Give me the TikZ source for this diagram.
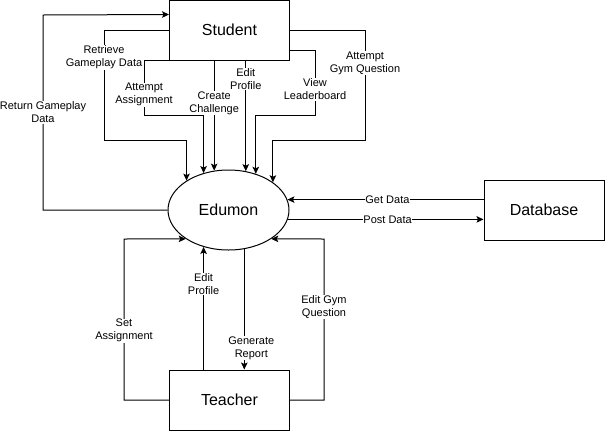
\documentclass[tikz,border=0pt]{standalone}
\usepackage{fontspec}
\setmainfont{Liberation Sans}
\usetikzlibrary{arrows.meta,shapes.geometric}
\begin{document}
\begin{tikzpicture}[x=1pt,y=-1pt,
  box/.style={draw,line width=1pt,minimum width=120pt,minimum height=60pt,inner sep=0pt,font=\fontsize{16}{19}\selectfont},
  proc/.style={draw,line width=1pt,ellipse,minimum width=121pt,minimum height=80pt,inner sep=0pt,font=\fontsize{16}{19}\selectfont},
  arr/.style={line width=1pt,-{Stealth[length=7pt,width=6.5pt,inset=1.5pt]}},
  lbl/.style={fill=white,inner sep=0.5pt,align=center,font=\fontsize{11}{13}\selectfont}]
\useasboundingbox (0,0) rectangle (605,432);
\node[box] (student) at (229.5,30) {Student};
\node[proc] (edumon) at (228.5,210) {Edumon};
\node[box] (database) at (544,210) {Database};
\node[box] (teacher) at (229.5,400) {Teacher};
% student side
\draw[arr] (edumon.west) -- ++(-124.5,0) -- node[lbl,pos=0.5]{Return Gameplay\\Data} ++(0,-195) -- ([yshift=-15pt]student.north west);
\draw[arr] (student.west) -- ++(-65,0) -- node[lbl,pos=0.25]{Retrieve\\Gameplay Data} ++(0,110) -| (edumon.145);
\draw[arr] (student.south west) -- ++(-25,0) -- node[lbl,pos=0.62]{Attempt\\Assignment} ++(0,55) -| (edumon.124);
\draw[arr] (edumon.110.5 |- student.south) -- node[lbl,pos=0.39]{Create\\Challenge} (edumon.110.5);
\draw[arr] (edumon.66.8 |- student.south) -- node[lbl,pos=0.17]{Edit\\Profile} (edumon.66.8);
\draw[arr] ([yshift=10pt]student.south east) -- ++(25,0) -- node[lbl,pos=0.6]{View\\Leaderboard} ++(0,65) -| (edumon.53.6);
\draw[arr] (student.east) -- ++(75,0) -- node[lbl,pos=0.3]{Attempt\\Gym Question} ++(0,110) -| (edumon.32.6);
% database
\draw[arr] (edumon.10.7 -| database.west) -- node[lbl,pos=0.49]{Get Data} (edumon.10.7);
\draw[arr] (edumon.-9.7) -- node[lbl,pos=0.51]{Post Data} (edumon.-9.7 -| database.west);
% teacher side
\draw[arr] (teacher.west) -- ++(-45,0) -- node[lbl,pos=0.43]{Set\\Assignment} ++(0,-161) -- (edumon.214.8);
\draw[arr] (edumon.236.2 |- teacher.north) -- node[lbl,pos=0.7]{Edit\\Profile} (edumon.236.2);
\draw[arr] (edumon.-68.2) -- node[lbl,pos=0.82,xshift=7pt]{Generate\\Report} (edumon.-68.2 |- teacher.north);
\draw[arr] (teacher.east) -- ++(34,0) -- node[lbl,pos=0.58]{Edit Gym\\Question} ++(0,-161) -- (edumon.-34.8);
\end{tikzpicture}
\end{document}
